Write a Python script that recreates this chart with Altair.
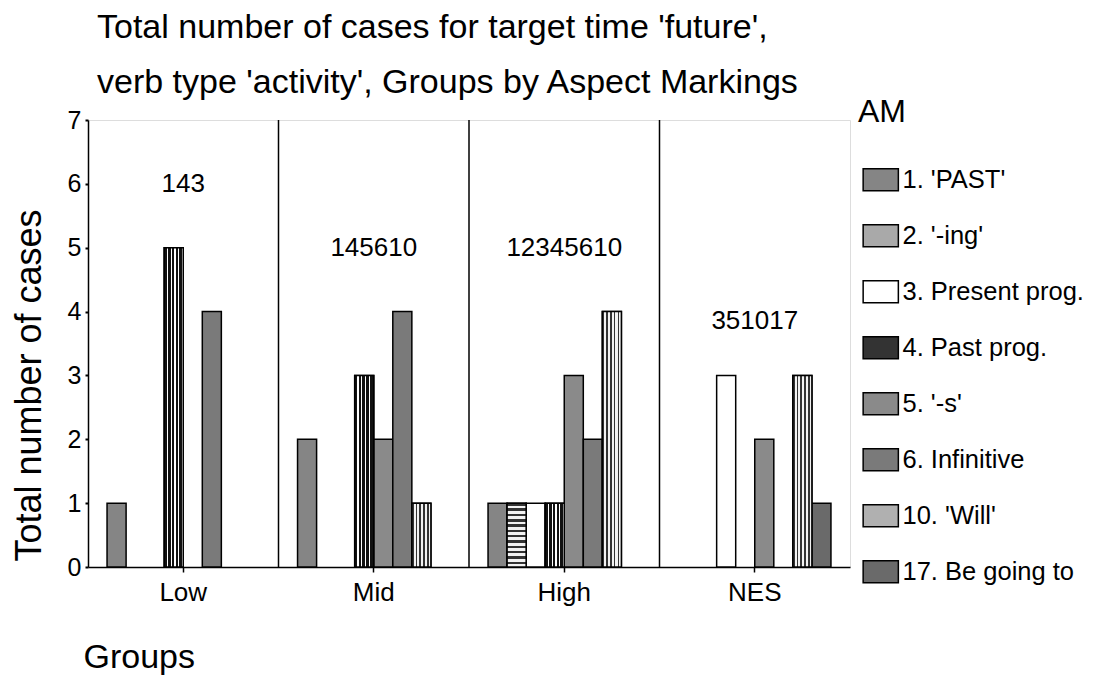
import altair as alt
import pandas as pd

# ---- data ----
groups = ["Low", "Mid", "High", "NES"]
categories = ["1. 'PAST'", "2. '-ing'", "3. Present prog.", "4. Past prog.",
              "5. '-s'", "6. Infinitive", "10. 'Will'", "17. Be going to"]

low_cats = ["1. 'PAST'", "4. Past prog.", "6. Infinitive"]
low_vals = [1, 5, 4]
mid_cats = ["1. 'PAST'", "4. Past prog.", "5. '-s'", "6. Infinitive", "10. 'Will'"]
mid_vals = [2, 3, 2, 4, 1]
high_cats = ["1. 'PAST'", "2. '-ing'", "3. Present prog.", "4. Past prog.",
             "5. '-s'", "6. Infinitive", "10. 'Will'"]
high_vals = [1, 1, 1, 1, 3, 2, 4]
nes_cats = ["3. Present prog.", "5. '-s'", "10. 'Will'", "17. Be going to"]
nes_vals = [3, 2, 3, 1]

label_texts = ["143", "145610", "12345610", "351017"]
label_y = [6, 5, 5, 3.85]

fills = ["#858585", "#a9a9a9", "#ffffff", "#333333",
         "#8a8a8a", "#7a7a7a", "#b0b0b0", "#6a6a6a"]

rows = []
for g, cs, vs in zip(groups, [low_cats, mid_cats, high_cats, nes_cats],
                     [low_vals, mid_vals, high_vals, nes_vals]):
    for c, v in zip(cs, vs):
        rows.append({"group": g, "AM": c, "count": v})
bars_df = pd.DataFrame(rows)
labels_df = pd.DataFrame({"group": groups, "text": label_texts, "y": label_y})
div_df = pd.DataFrame({"group": groups[1:]})

FONT = "Liberation Sans"
W, H = 762, 447

xscale = alt.Scale(domain=groups, paddingInner=0, paddingOuter=0)
yscale = alt.Scale(domain=[0, 7], nice=False)
offscale = alt.Scale(domain=categories, paddingInner=0, paddingOuter=1)


def stripes(n, frac, dark, light, vertical):
    stops = []
    p = 1.0 / n
    for i in range(n):
        s = i * p
        m = s + frac * p
        stops += [alt.GradientStop(offset=round(s, 4), color=dark),
                  alt.GradientStop(offset=round(m, 4), color=dark),
                  alt.GradientStop(offset=round(m, 4), color=light),
                  alt.GradientStop(offset=round(s + p, 4), color=light)]
    if vertical:
        return alt.LinearGradient(gradient="linear", stops=stops, x1=0, x2=1, y1=0, y2=0)
    return alt.LinearGradient(gradient="linear", stops=stops, x1=0, x2=0, y1=0, y2=1)


x_enc = alt.X("group:N", scale=xscale, sort=groups,
              axis=alt.Axis(title="Groups", labelAngle=0, labelFontSize=26,
                            labelFont=FONT, labelColor="black", labelPadding=7,
                            tickSize=5, tickColor="black", tickWidth=1.5,
                            domainColor="black", domainWidth=1.5,
                            titleFont=FONT, titleFontSize=34, titleFontWeight="normal",
                            titleColor="black", titleAlign="left", titleBaseline="middle",
                            titleX=-5, titleY=90))
y_enc = alt.Y("count:Q", scale=yscale,
              axis=alt.Axis(title="Total number of cases", values=[0, 1, 2, 3, 4, 5, 6, 7],
                            format="d", labelFontSize=25, labelFont=FONT,
                            labelColor="black", labelPadding=4, tickSize=3,
                            tickColor="black", tickWidth=2, domainColor="black",
                            domainWidth=1.5, grid=False, titleFont=FONT,
                            titleFontSize=36, titleFontWeight="normal",
                            titleColor="black", titleAngle=270, titleAlign="center",
                            titleBaseline="middle", titleX=-59, titleY=265))
off_enc = alt.XOffset("AM:N", scale=offscale)

bars = alt.Chart(bars_df).mark_bar(stroke="black", strokeWidth=1.5).encode(
    x=x_enc, xOffset=off_enc, y=y_enc,
    color=alt.Color("AM:N", scale=alt.Scale(domain=categories, range=fills),
                    legend=alt.Legend(title="AM", orient="none", legendX=770,
                                      legendY=-23, titleFont=FONT, titleFontSize=32,
                                      titleFontWeight="normal", titleColor="black",
                                      titlePadding=38, labelFont=FONT,
                                      labelFontSize=25.5, labelColor="black",
                                      labelLimit=400,
                                      symbolType="M-1.6,-1H1.6V1H-1.6Z",
                                      symbolSize=484, symbolStrokeColor="black",
                                      symbolStrokeWidth=1.5, symbolOffset=10,
                                      labelOffset=9, rowPadding=27,
                                      symbolOpacity=1)),
)

# texture overlays (line patterns of the original)
pattern_specs = [
    ("4. Past prog.", stripes(5, 0.7, "#111111", "#ffffff", True)),
    ("10. 'Will'", stripes(5, 0.45, "#333333", "#f2f2f2", True)),
    ("2. '-ing'", stripes(12, 0.45, "#333333", "#f2f2f2", False)),
]
overlays = []
for cat, grad in pattern_specs:
    overlays.append(
        alt.Chart(bars_df).transform_filter(alt.datum.AM == cat)
        .mark_bar(fill=grad, stroke="black", strokeWidth=1.5)
        .encode(x=alt.X("group:N", scale=xscale, sort=groups),
                xOffset=off_enc,
                y=alt.Y("count:Q", scale=yscale))
    )

dividers = alt.Chart(div_df).mark_rule(color="black", strokeWidth=1.5).encode(
    x=alt.X("group:N", scale=xscale, sort=groups, bandPosition=0)
)

labels = alt.Chart(labels_df).mark_text(font=FONT, fontSize=26, color="black",
                                        baseline="middle").encode(
    x=alt.X("group:N", scale=xscale, sort=groups),
    y=alt.Y("y:Q", scale=yscale),
    text="text:N",
)

chart = alt.layer(bars, *overlays, dividers, labels).properties(
    width=W, height=H,
    title=alt.TitleParams(
        text=["Total number of cases for target time 'future',",
              "verb type 'activity', Groups by Aspect Markings"],
        anchor="start", frame="group", font=FONT, fontSize=34,
        fontWeight="normal", color="black", lineHeight=55, dx=9, dy=59,
        baseline="bottom", offset=22),
    autosize=alt.AutoSizeParams(type="none"),
    padding={"left": 80, "top": 112, "right": 238, "bottom": 110},
).configure_view(stroke="black", strokeWidth=1.5).configure(background="white")

chart.save("out.html", embed_options={"renderer": "svg", "actions": False})
